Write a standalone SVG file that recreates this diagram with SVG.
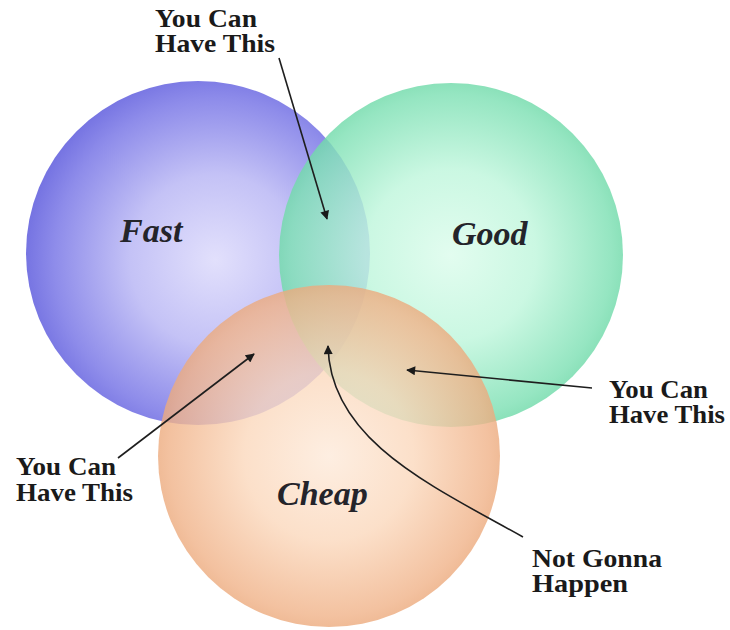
<svg xmlns="http://www.w3.org/2000/svg" width="730" height="630" viewBox="0 0 730 630">
  <defs>
    <radialGradient id="gFast" cx="0.55" cy="0.52" r="0.55">
      <stop offset="0" stop-color="#e2e0fc"/>
      <stop offset="0.45" stop-color="#c4c2f6"/>
      <stop offset="0.85" stop-color="#8e8cea"/>
      <stop offset="1" stop-color="#7674e2"/>
    </radialGradient>
    <radialGradient id="gGood" cx="0.5" cy="0.5" r="0.55">
      <stop offset="0" stop-color="#dcfcec"/>
      <stop offset="0.45" stop-color="#bff6dc"/>
      <stop offset="0.85" stop-color="#7ee0b4"/>
      <stop offset="1" stop-color="#5ed29c"/>
    </radialGradient>
    <radialGradient id="gCheap" cx="0.5" cy="0.5" r="0.55">
      <stop offset="0" stop-color="#fdeada"/>
      <stop offset="0.45" stop-color="#fbd8bc"/>
      <stop offset="0.85" stop-color="#f0b288"/>
      <stop offset="1" stop-color="#e69e6c"/>
    </radialGradient>
    <marker id="ah" viewBox="0 0 10 10" refX="9" refY="5" markerWidth="11" markerHeight="9" markerUnits="userSpaceOnUse" orient="auto">
      <path d="M0,0 L10,5 L0,10 z" fill="#1a1a1a"/>
    </marker>
    <style>
      .lbl { font-family: "Liberation Serif", "Times New Roman", serif; font-weight: bold; font-size: 25px; fill: #1a1a1a; }
      .set { font-family: "Liberation Serif", "Times New Roman", serif; font-weight: bold; font-style: italic; font-size: 34px; fill: #24242a; }
      .conn { fill: none; stroke: #1e1e1e; stroke-width: 1.6; marker-end: url(#ah); }
    </style>
  </defs>
  <rect width="730" height="630" fill="#ffffff"/>

  <g id="fast">
    <circle cx="198" cy="253" r="172" fill="url(#gFast)"/>
  </g>
  <g id="good">
    <circle cx="451" cy="255" r="172" fill="url(#gGood)" opacity="0.82"/>
  </g>
  <g id="cheap">
    <circle cx="329" cy="456" r="171" fill="url(#gCheap)" opacity="0.8"/>
  </g>

  <g id="set-labels">
    <text class="set" x="120" y="242">Fast</text>
    <text class="set" x="452" y="245">Good</text>
    <text class="set" x="277" y="505">Cheap</text>
  </g>

  <g id="connectors">
    <path class="conn" d="M279,58 L327,219"/>
    <path class="conn" d="M118,458 L254,354"/>
    <path class="conn" d="M592,388 L407,370"/>
    <path class="conn" d="M523,537 C430,485 330,440 328,346"/>
  </g>

  <g id="label-top">
    <text class="lbl" x="155" y="27" textLength="102" lengthAdjust="spacingAndGlyphs">You Can</text>
    <text class="lbl" x="155" y="52" textLength="120" lengthAdjust="spacingAndGlyphs">Have This</text>
  </g>
  <g id="label-left">
    <text class="lbl" x="16" y="475" textLength="100" lengthAdjust="spacingAndGlyphs">You Can</text>
    <text class="lbl" x="16" y="501" textLength="117" lengthAdjust="spacingAndGlyphs">Have This</text>
  </g>
  <g id="label-right">
    <text class="lbl" x="609" y="398" textLength="99" lengthAdjust="spacingAndGlyphs">You Can</text>
    <text class="lbl" x="609" y="423" textLength="116" lengthAdjust="spacingAndGlyphs">Have This</text>
  </g>
  <g id="label-never">
    <text class="lbl" x="532" y="567" textLength="130" lengthAdjust="spacingAndGlyphs">Not Gonna</text>
    <text class="lbl" x="532" y="592" textLength="96" lengthAdjust="spacingAndGlyphs">Happen</text>
  </g>
</svg>
